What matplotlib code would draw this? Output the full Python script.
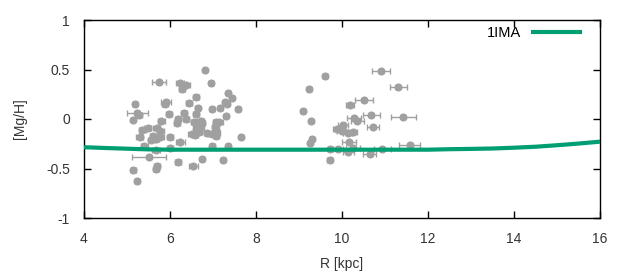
import matplotlib
matplotlib.use("Agg")
import matplotlib.pyplot as plt
import numpy as np

plt.rcParams['font.family'] = ['Liberation Sans', 'DejaVu Sans']

# Observed stars: R [kpc], [Mg/H], errors
obs_R = [6.81, 5.75, 6.23, 6.37, 6.27, 6.96, 7.36, 7.44, 6.61, 5.18,
         5.91, 5.88, 6.44, 7.29, 7.33, 6.64, 6.98, 7.17, 7.59, 5.24,
         5.27, 5.98, 6.33, 6.61, 7.31, 5.15, 5.80, 6.18, 6.37, 6.16,
         6.56, 6.71, 6.74, 7.08, 7.15, 6.62, 6.70, 7.05, 5.36, 5.48,
         5.69, 5.77, 6.62, 6.67, 7.07, 7.08, 6.50, 6.58, 6.87, 6.97,
         5.30, 5.61, 5.67, 5.56, 5.77, 6.00, 7.08, 7.66, 6.24, 5.40,
         6.00, 5.67, 6.98, 7.36, 5.51, 6.75, 7.24, 6.19, 6.54, 5.70,
         5.68, 5.15, 5.24,
         10.91, 9.61, 11.31, 9.24, 10.52, 10.19, 9.10, 10.68, 11.43, 10.28,
         10.36, 9.28, 10.73, 10.02, 9.88, 9.99, 10.13, 10.25, 9.31, 9.26,
         10.17, 11.57, 9.72, 9.90, 10.26, 10.94, 10.15, 10.64, 9.71]
obs_MgH = [0.49, 0.37, 0.36, 0.34, 0.30, 0.36, 0.26, 0.21, 0.22, 0.15,
           0.175, 0.15, 0.16, 0.17, 0.15, 0.11, 0.10, 0.11, 0.10, 0.06,
           0.04, 0.05, 0.06, 0.05, 0.03, -0.01, -0.02, 0.00, 0.00, -0.04,
           -0.03, -0.02, -0.04, -0.03, -0.03, -0.08, -0.09, -0.08, -0.11, -0.09,
           -0.09, -0.12, -0.11, -0.13, -0.12, -0.145, -0.15, -0.16, -0.14, -0.15,
           -0.18, -0.17, -0.20, -0.21, -0.185, -0.18, -0.17, -0.18, -0.23, -0.27,
           -0.29, -0.31, -0.27, -0.27, -0.38, -0.40, -0.41, -0.43, -0.47, -0.47,
           -0.50, -0.52, -0.63,
           0.48, 0.43, 0.32, 0.30, 0.19, 0.14, 0.08, 0.04, 0.02, 0.01,
           -0.02, -0.02, -0.08, -0.06, -0.10, -0.12, -0.14, -0.13, -0.20, -0.24,
           -0.23, -0.26, -0.30, -0.30, -0.29, -0.30, -0.33, -0.35, -0.41]
obs_Rerr = [0.03, 0.16, 0.09, 0.09, 0.07, 0.04, 0.04, 0.03, 0.07, 0.03,
            0.12, 0.07, 0.07, 0.03, 0.03, 0.05, 0.05, 0.05, 0.03, 0.25,
            0.07, 0.07, 0.07, 0.07, 0.03, 0.04, 0.08, 0.07, 0.07, 0.07,
            0.08, 0.08, 0.08, 0.08, 0.08, 0.08, 0.08, 0.08, 0.08, 0.08,
            0.08, 0.08, 0.08, 0.08, 0.08, 0.08, 0.08, 0.08, 0.08, 0.08,
            0.08, 0.08, 0.08, 0.08, 0.08, 0.08, 0.06, 0.03, 0.1, 0.08,
            0.08, 0.1, 0.06, 0.03, 0.4, 0.05, 0.05, 0.07, 0.1, 0.07,
            0.07, 0.05, 0.05,
            0.21, 0.05, 0.2, 0.03, 0.21, 0.1, 0.03, 0.2, 0.3, 0.16,
            0.16, 0.03, 0.14, 0.12, 0.1, 0.1, 0.1, 0.1, 0.05, 0.03,
            0.16, 0.24, 0.05, 0.12, 0.16, 0.2, 0.12, 0.16, 0.05]
obs_MgHerr = [0.02] * len(obs_R)

# Model 1IMA
model_R = [4.0, 4.5, 5.0, 5.5, 6.0, 8.0, 10.0, 12.0, 12.5, 13.0, 13.5, 14.0, 14.5, 15.0, 15.5, 16.0]
model_MgH = [-0.285, -0.293, -0.30, -0.307, -0.31, -0.31, -0.31, -0.31, -0.305, -0.302, -0.298,
             -0.29, -0.28, -0.265, -0.248, -0.229]

fig = plt.figure(figsize=(6.3, 2.8), dpi=100)
ax = fig.add_axes([84/630, 1-218/280, (600-84)/630, (218-20)/280])

grey = '#a0a0a0'
ax.errorbar(obs_R, obs_MgH, xerr=obs_Rerr, yerr=obs_MgHerr, fmt='o', color=grey,
            ms=4.8, mec=grey, ecolor=grey, elinewidth=1, capsize=2, capthick=1, zorder=2)
ax.plot(model_R, model_MgH, color='#009e73', lw=3, label='1IMA', zorder=3)

ax.set_xlim(4, 16)
ax.set_ylim(-1, 1)
ax.set_xticks([4, 6, 8, 10, 12, 14, 16])
ax.set_yticks([-1, -0.5, 0, 0.5, 1])
ax.set_yticklabels(['-1', '-0.5', '0', '0.5', '1'])
ax.tick_params(direction='in', top=True, right=True, length=5, width=1,
               labelsize=10, colors='black', labelcolor='#333333')
ax.tick_params(axis='x', pad=10)
ax.tick_params(axis='y', pad=10)
for s in ax.spines.values():
    s.set_linewidth(1)
ax.set_xlabel('R [kpc]', fontsize=10, color='#333333', labelpad=8)
ax.set_ylabel('[Mg/H]', fontsize=10, color='#333333', labelpad=14)

leg = ax.legend(loc='upper right', bbox_to_anchor=(0.972, 1.0), frameon=False,
                fontsize=10.5, handlelength=3.2, markerfirst=False,
                borderaxespad=0.0, handletextpad=0.8)

fig.savefig('out.png', dpi=100)
